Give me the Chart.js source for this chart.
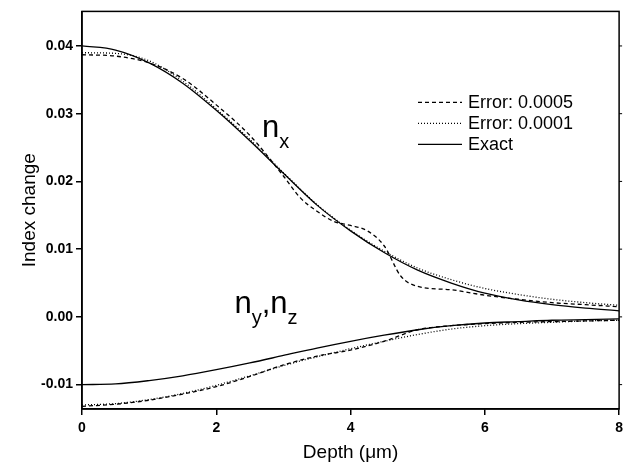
<!DOCTYPE html>
<html lang="en">
<head>
<meta charset="UTF-8">
<title>Index change vs depth</title>
<script src="https://cdn.jsdelivr.net/npm/chart.js@4.4.0/dist/chart.umd.min.js"></script>
<style>
    body { margin: 0; background: #fff; }
    #wrap { width: 628px; height: 465px; }
</style>
</head>
<body>
<div id="wrap"><canvas id="indexChart" width="628" height="465"></canvas></div>
<script>
// depth grid in um
const depth = [0, 0.5, 1, 1.5, 2, 2.5, 3, 3.5, 4, 4.5, 5, 5.5, 6, 6.5, 7, 7.5, 8];

// n_x profiles
const nxExact  = [0.0400, 0.0394, 0.0375, 0.0345, 0.0305, 0.0260, 0.0212, 0.0165, 0.0127, 0.0095, 0.0069, 0.0050, 0.0035, 0.0025, 0.0018, 0.0013, 0.0009];
const nxErr1e4 = [0.0390, 0.0389, 0.0378, 0.0348, 0.0307, 0.0262, 0.0213, 0.0166, 0.0128, 0.0097, 0.0072, 0.0055, 0.0042, 0.0033, 0.0026, 0.0021, 0.0017];
// the 0.0005 reconstruction has a shoulder near 4 um, so it gets a finer grid
const depthFine = [0, 0.5, 1, 1.5, 2, 2.5, 3, 3.25, 3.5, 3.75, 4, 4.25, 4.5, 4.75, 5, 5.5, 6, 6.5, 7, 7.5, 8];
const nxErr5e4  = [0.0387, 0.0385, 0.0375, 0.0352, 0.0313, 0.0268, 0.0208, 0.0176, 0.0156, 0.0141, 0.0135, 0.0127, 0.0105, 0.0060, 0.0045, 0.0040, 0.0032, 0.0026, 0.0021, 0.0018, 0.0015];

// n_y, n_z profiles
const nyExact  = [-0.0100, -0.0099, -0.0094, -0.0087, -0.0078, -0.0068, -0.0057, -0.0046, -0.0036, -0.0027, -0.0019, -0.0013, -0.0009, -0.0007, -0.0005, -0.0004, -0.0003];
const nyErr5e4 = [-0.0132, -0.0129, -0.0123, -0.0114, -0.0103, -0.0088, -0.0071, -0.0058, -0.0049, -0.0036, -0.0019, -0.0013, -0.0010, -0.0008, -0.0007, -0.0006, -0.0005];
const nyErr1e4 = [-0.0130, -0.0128, -0.0122, -0.0113, -0.0101, -0.0087, -0.0072, -0.0059, -0.0047, -0.0036, -0.0026, -0.0018, -0.0013, -0.0010, -0.0008, -0.0006, -0.0005];

const xTicks = [0, 2, 4, 6, 8];
const yTicks = [-0.01, 0.00, 0.01, 0.02, 0.03, 0.04];
const legendLabels = ['Error: 0.0005', 'Error: 0.0001', 'Exact'];

const FONT = '"Liberation Sans", Arial, sans-serif';
const DASH = [4, 3];
const DOT = [1, 2];

function pts(xs, ys) {
    return xs.map((x, i) => ({ x: x, y: ys[i] }));
}

function curve(label, xs, ys, dash) {
    return {
        label: label,
        data: pts(xs, ys),
        borderColor: '#000',
        borderWidth: 1.3,
        borderDash: dash,
        pointRadius: 0,
        fill: false,
        cubicInterpolationMode: 'monotone'
    };
}

// draws "n" with subscripts, e.g. [['n'], ['x', true]]
function subText(ctx, parts, x0, y0) {
    let xx = x0;
    parts.forEach(([txt, sub]) => {
        ctx.font = (sub ? '20px ' : '31px ') + FONT;
        ctx.fillText(txt, xx, sub ? y0 + 11 : y0);
        xx += ctx.measureText(txt).width;
    });
}

const extras = {
    id: 'extras',
    afterDraw(chart) {
        const { ctx, chartArea: a, scales: { x, y } } = chart;
        ctx.save();
        ctx.strokeStyle = '#000';
        ctx.lineWidth = 1.5;
        ctx.strokeRect(a.left, a.top, a.right - a.left, a.bottom - a.top);

        // small mirror ticks on the right frame
        ctx.lineWidth = 1;
        yTicks.forEach(v => {
            const py = y.getPixelForValue(v);
            ctx.beginPath();
            ctx.moveTo(a.right, py);
            ctx.lineTo(a.right + 3, py);
            ctx.stroke();
        });

        ctx.fillStyle = '#000';
        ctx.textBaseline = 'alphabetic';
        subText(ctx, [['n'], ['x', true]], x.getPixelForValue(2.68), y.getPixelForValue(0.0266));
        subText(ctx, [['n'], ['y', true], [','], ['n'], ['z', true]], x.getPixelForValue(2.27), y.getPixelForValue(0.0006));

        // legend
        const dashes = [DASH, DOT, []];
        ctx.font = '18px ' + FONT;
        ctx.textBaseline = 'middle';
        legendLabels.forEach((lab, i) => {
            const ly = a.top + 91 + i * 21;
            ctx.setLineDash(dashes[i]);
            ctx.lineWidth = 1.3;
            ctx.beginPath();
            ctx.moveTo(418, ly);
            ctx.lineTo(462, ly);
            ctx.stroke();
            ctx.fillText(lab, 468, ly + 1);
        });
        ctx.restore();
    }
};

const axisGrid = { drawOnChartArea: false, drawTicks: true, tickLength: 6, color: '#000', lineWidth: 1.5 };

new Chart(document.getElementById('indexChart').getContext('2d'), {
    type: 'line',
    data: {
        datasets: [
            curve(legendLabels[0], depthFine, nxErr5e4, DASH),
            curve(legendLabels[1], depth, nxErr1e4, DOT),
            curve(legendLabels[2], depth, nxExact, []),
            curve(legendLabels[0], depth, nyErr5e4, DASH),
            curve(legendLabels[1], depth, nyErr1e4, DOT),
            curve(legendLabels[2], depth, nyExact, [])
        ]
    },
    options: {
        responsive: false,
        animation: false,
        layout: { padding: { top: 9, right: 6, left: 0, bottom: 0 } },
        plugins: { legend: { display: false }, tooltip: { enabled: false } },
        scales: {
            x: {
                type: 'linear',
                min: 0,
                max: 8,
                afterBuildTicks: s => { s.ticks = xTicks.map(v => ({ value: v })); },
                afterFit: s => { s.height = 56; },
                grid: axisGrid,
                border: { color: '#000', width: 1.5 },
                ticks: { color: '#000', padding: 5, maxRotation: 0, font: { family: FONT, size: 14, weight: 'bold' } },
                title: { display: true, text: 'Depth (\u03bcm)', color: '#000', padding: { top: 0, bottom: 1 }, font: { family: FONT, size: 19 } }
            },
            y: {
                min: -0.0136,
                max: 0.0451,
                afterBuildTicks: s => { s.ticks = yTicks.map(v => ({ value: v })); },
                afterFit: s => { s.width = 82; },
                grid: axisGrid,
                border: { color: '#000', width: 1.5 },
                ticks: { color: '#000', padding: 3, font: { family: FONT, size: 14, weight: 'bold' }, callback: v => v.toFixed(2) },
                title: { display: true, text: 'Index change', color: '#000', padding: { top: 18, bottom: 0 }, font: { family: FONT, size: 19 } }
            }
        }
    },
    plugins: [extras]
});
</script>
</body>
</html>
